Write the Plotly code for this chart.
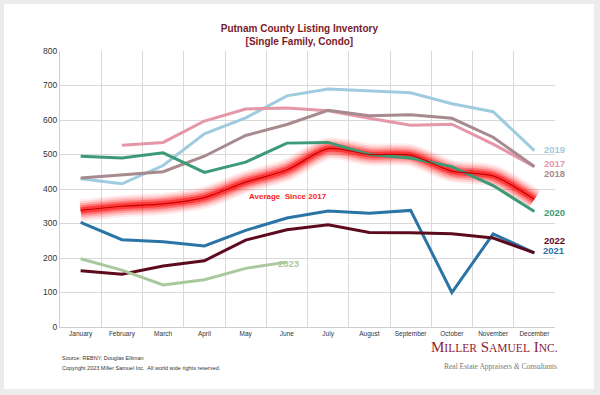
import plotly.graph_objects as go

months = ["January", "February", "March", "April", "May", "June", "July",
          "August", "September", "October", "November", "December"]

y2017 = [None, 527, 535, 597, 632, 635, 627, 605, 585, 588, 530, 465]
y2018 = [432, 440, 450, 495, 555, 587, 628, 612, 615, 605, 550, 465]
y2019 = [430, 415, 468, 560, 606, 670, 690, 685, 679, 647, 624, 511]
y2020 = [495, 490, 505, 448, 478, 533, 535, 500, 490, 465, 410, 335]
y2021 = [303, 253, 247, 235, 280, 316, 336, 330, 338, 100, 270, 215]
y2022 = [163, 153, 177, 192, 252, 282, 296, 274, 273, 270, 258, 215]
y2023 = [198, 165, 122, 137, 170, 188, None, None, None, None, None, None]
avg = [338, 350, 357, 375, 420, 455, 517, 500, 498, 452, 438, 370]

series = [
    ("2019", y2019, "#9FCBE0"),
    ("2017", y2017, "#E597A7"),
    ("2018", y2018, "#A78A8E"),
    ("2020", y2020, "#3D9A76"),
    ("2021", y2021, "#2B74A6"),
    ("2022", y2022, "#5E0A1E"),
    ("2023", y2023, "#A9C99D"),
]

W, H = 600, 395
L, R, T, B = 60, 45, 51, 68
pw, ph = W - L - R, H - T - B

def px(x):
    return (x - L) / pw

def py(y):
    return (H - B - y) / ph

fig = go.Figure()

# glow for average line
for w, a in [(22, 0.08), (18, 0.12), (14, 0.18), (10, 0.30), (6, 0.5)]:
    fig.add_trace(go.Scatter(x=months, y=avg, mode="lines",
                             line=dict(color=f"rgba(255,0,0,{a})", width=w, shape="spline", smoothing=0.8),
                             hoverinfo="skip", showlegend=False))

for name, vals, col in series:
    fig.add_trace(go.Scatter(x=months, y=vals, mode="lines", name=name,
                             line=dict(color=col, width=3), showlegend=False))

fig.add_trace(go.Scatter(x=months, y=avg, mode="lines", name="Average Since 2017",
                         line=dict(color="#C40000", width=1.2, shape="spline", smoothing=0.8),
                         showlegend=False))

labels = [("2019", 567, 149, "#9FCBE0"), ("2017", 567, 163, "#E597A7"),
          ("2018", 567, 173, "#A78A8E"), ("2020", 567, 213, "#3D9A76"),
          ("2022", 567, 248, "#5E0A1E"), ("2021", 567, 258, "#2B74A6")]
ann = []
for t, x, y, c in labels:
    ann.append(dict(text=f"<b>{t}</b>", x=px(x), y=py(y), xref="paper", yref="paper",
                    showarrow=False, font=dict(size=9.5, color=c, family="Liberation Sans")))
ann.append(dict(text="<b>2023</b>", x=px(288), y=py(271), xref="paper", yref="paper",
                showarrow=False, font=dict(size=9.5, color="#A9C99D", family="Liberation Sans")))
ann.append(dict(text="<b>Average  Since 2017</b>", x=px(288), y=py(196), xref="paper", yref="paper",
                showarrow=False, font=dict(size=8, color="#FF1A1A", family="Liberation Sans")))
ann.append(dict(text="Source: REBNY, Douglas Elliman", x=px(60), y=py(363), xref="paper", yref="paper",
                xanchor="left", showarrow=False, font=dict(size=5.5, color="#333", family="Liberation Sans")))
ann.append(dict(text="Copyright 2023 Miller Samuel Inc.  All world wide rights reserved.", x=px(60), y=py(373),
                xref="paper", yref="paper", xanchor="left", showarrow=False,
                font=dict(size=5.5, color="#333", family="Liberation Sans")))
sc = "font-size:11.5px"
ann.append(dict(text=f"M<span style='{sc}'>ILLER</span> S<span style='{sc}'>AMUEL</span> I<span style='{sc}'>NC.</span>",
                x=px(560), y=py(357), xref="paper", yref="paper", xanchor="right", showarrow=False,
                font=dict(size=15, color="#8B2233", family="Liberation Serif")))
ann.append(dict(text="Real Estate Appraisers <i>&amp;</i> Consultants", x=px(559), y=py(373),
                xref="paper", yref="paper", xanchor="right", showarrow=False,
                font=dict(size=7.5, color="#777", family="Liberation Serif")))

fig.update_layout(
    width=W, height=H,
    margin=dict(l=L, r=R, t=T, b=B),
    paper_bgcolor="#ECECEC",
    plot_bgcolor="rgba(0,0,0,0)",
    title=dict(text="<b>Putnam County Listing Inventory<br>[Single Family, Condo]</b>",
               x=px(307), xanchor="center", y=1 - 32 / H, yanchor="middle",
               font=dict(size=10, color="#7A1A2A", family="Liberation Sans")),
    annotations=ann,
    shapes=[dict(type="rect", xref="paper", yref="paper", x0=px(4), x1=px(594), y0=py(389), y1=py(4),
                 fillcolor="white", line=dict(width=0), layer="below")],
    xaxis=dict(type="category", tickson="boundaries", showgrid=True, gridcolor="#D9D9D9",
               showline=True, linecolor="#CCCCCC", ticks="", tickfont=dict(size=6.5, color="#333",
               family="Liberation Sans"), range=[-0.5, 11.5]),
    yaxis=dict(range=[0, 800], dtick=100, showgrid=True, gridcolor="#D9D9D9", showline=True,
               linecolor="#CCCCCC", zeroline=False, ticks="",
               tickfont=dict(size=8.5, color="#333", family="Liberation Sans")),
)

fig.write_html("out.html", config={"displayModeBar": False},
               post_script="document.body.style.margin='0px';document.body.style.padding='0px';")
